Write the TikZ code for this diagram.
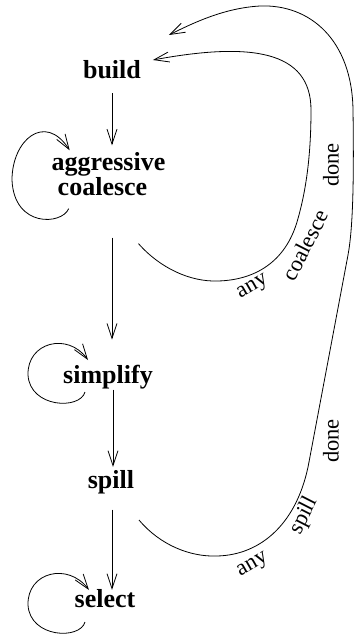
\documentclass[tikz,border=0pt]{standalone}
\usepackage{fontspec}
\setmainfont{Liberation Serif}
\usetikzlibrary{arrows.meta,calc}
\begin{document}
\begin{tikzpicture}[x=1pt,y=-1pt,
  state/.style={inner sep=0pt,outer sep=0pt,font=\bfseries\fontsize{26}{25}\selectfont},
  lbl/.style={inner sep=0pt,outer sep=0pt,font=\fontsize{22.5}{22.5}\selectfont},
  arr/.style={-{Straight Barb[length=15pt,width=10pt]},line width=0.8pt},
]
\useasboundingbox (0,0) rectangle (354,634);
\node[state,anchor=base] (build) at (112,78) {build};
\node[state,align=center] (agg) at (108.5,174) {aggressive\\coalesce\hspace*{12pt}};
\node[state,anchor=base] (simp) at (108,383) {simplify};
\node[state,anchor=base] (spill) at (111,488) {spill};
\node[state,anchor=base] (sel) at (105,607) {select};

\draw[arr] ($(build.south)+(0,15)$) -- ($(build.south |- agg.north)+(0,-7)$);
\draw[arr] ($(build.south |- agg.south)+(0,42)$) -- ($(build.south |- simp.north)+(0,-25)$);
\draw[arr] ($(build.south |- simp.south)+(1,1)$) -- ($(build.south |- spill.north)+(1,-3)$);
\draw[arr] ($(build.south |- spill.south)+(0,16)$) -- ($(build.south |- sel.north)+(0,1)$);

\draw[arr] ($(agg.south west)+(17,13)$) .. controls (62,225) and (14,228) .. (12,180) .. controls (12,140) and (45,112) .. ($(agg.north west)+(18,-2)$);
\draw[arr] ($(simp.base)+(-23,9)$) .. controls (80,410) and (30,408) .. (28,375) .. controls (27,342) and (68,332) .. ($(simp.base)+(-20,-23)$);
\draw[arr] ($(sel.base)+(-20,15)$) .. controls (80,640) and (30,638) .. (28,605) .. controls (27,572) and (68,562) .. ($(sel.base)+(-16,-17)$);

\draw[arr] ($(agg.south)+(30,48)$) .. controls (160,268) and (190,282) .. (218,281) .. controls (255,280) and (285,262) .. (297,222) .. controls (305,195) and (311,160) .. (311,110) .. controls (311,50) and (250,42) .. ($(build.base east)+(12,-18)$);
\draw[arr] ($(spill.base)+(28,32)$) .. controls (160,545) and (190,557) .. (217,556) .. controls (262,555) and (298,522) .. (309,462) -- (348,255) .. controls (353,228) and (354,180) .. (353,110) .. controls (352,40) and (310,4) .. (260,6) .. controls (225,8) and (195,22) .. ($(build.base east)+(28,-43)$);

\node[lbl,rotate=30] (any1) at (253,288) {any};
\node[lbl,rotate=63] (coal) at (305,245) {coalesce};
\node[lbl,rotate=90] (done1) at (331,165) {done};
\node[lbl,rotate=30] (any2) at (253,566) {any};
\node[lbl,rotate=63] (spl) at (304,516) {spill};
\node[lbl,rotate=90] (done2) at (331,441) {done};
\end{tikzpicture}
\end{document}
